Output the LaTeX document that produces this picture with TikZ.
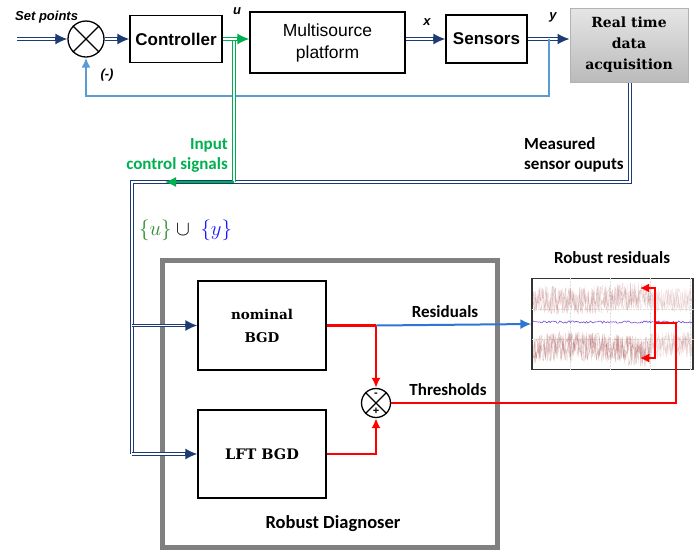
\documentclass[tikz,border=0pt]{standalone}
\usepackage{fontspec}
\usetikzlibrary{arrows.meta,calc}
\newfontfamily\arial{Liberation Sans}
\newfontfamily\calib{Carlito}
\newfontfamily\dserif{DejaVu Serif}
\definecolor{navy}{HTML}{1F3B73}
\definecolor{grn}{HTML}{00B050}
\definecolor{fbblue}{HTML}{5B9BD5}
\definecolor{resblue}{HTML}{2F75D5}
\definecolor{dgray}{HTML}{808080}
\definecolor{noise}{HTML}{A85050}
\definecolor{mblue}{HTML}{1A1AFF}
\definecolor{mgreen}{HTML}{2E8B2E}
\begin{document}
\begin{tikzpicture}[x=1pt,y=-1pt,
  box/.style={draw=black, line width=1.3pt, fill=white, inner sep=0pt, align=center},
  sumc/.style={draw=black, line width=1.3pt, circle, fill=white, inner sep=0pt},
  ndbl/.style={draw=navy, double=white, double distance=1.3pt, line width=1.1pt},
  gdbl/.style={draw=grn, double=white, double distance=1.3pt, line width=1.1pt},
  dshort/.style={shorten >=10pt},
  ntipline/.style={draw=navy, line width=1.4pt, -{Latex[length=12pt,width=11pt]}},
  gtipline/.style={draw=grn, line width=1.4pt, -{Latex[length=12pt,width=11pt]}},
  rline/.style={draw=red, line width=2.2pt},
  rtip/.style={-{Latex[length=10pt,width=9pt]}},
  lbl/.style={font=\calib\bfseries\fontsize{17}{20}\selectfont, inner sep=0pt},
  var/.style={font=\arial\bfseries\itshape\fontsize{13}{15}\selectfont, inner sep=0pt},
  serifb/.style={font=\dserif\bfseries\fontsize{14}{21}\selectfont}
]
\useasboundingbox (0,0) rectangle (694,550);

% ---------- top loop ----------
\node[sumc, minimum size=36pt] (s1) at (86,39) {};
\draw[line width=1.3pt] (s1.north west) -- (s1.south east) (s1.north east) -- (s1.south west);
\node[box, minimum width=92pt, minimum height=47pt, font=\arial\bfseries\fontsize{17}{20}\selectfont] (ctrl) at (176,39) {Controller};
\node[box, minimum width=155pt, minimum height=61pt, font=\arial\fontsize{17.5}{22}\selectfont] (ms) at (327.5,42.5) {Multisource\\platform};
\node[box, minimum width=81pt, minimum height=48pt, font=\arial\bfseries\fontsize{17}{20}\selectfont] (sens) at (486.5,39) {Sensors};
\node[draw=black!30, line width=1pt, top color=black!10, bottom color=black!27, minimum width=118pt, minimum height=74pt, inner sep=0pt, align=center, serifb] (rt) at (629,45) {Real time\\data\\acquisition};

\node[var, anchor=west] (sp) at (15,17) {Set points};
\coordinate (in) at (17,39);
\draw[ndbl, dshort] (in) -- (s1.west);
\draw[ntipline] ($(s1.west)+(-12,0)$) -- (s1.west);
\draw[ndbl, dshort] (s1.east) -- (ctrl.west);
\draw[ntipline] ($(ctrl.west)+(-12,0)$) -- (ctrl.west);
\draw[ndbl, dshort] (ms.east |- sens.west) -- (sens.west);
\draw[ntipline] ($(sens.west)+(-12,0)$) -- (sens.west);
\draw[ndbl, dshort] (sens.east) -- (rt.west |- sens.east);
\draw[ntipline] ($(rt.west |- sens.east)+(-12,0)$) -- (rt.west |- sens.east);
\node[var] (xl) at (427,22) {x};
\node[var] (yl) at (553,17) {y};
\node[var] (ul) at (237,11) {u};
\node[var] (mn) at (107,75) {(-)};

% feedback
\coordinate (fb) at (549,39);
\coordinate (fbr) at (549,96);
\coordinate (fbl) at (86,96);
\draw[fbblue, line width=1.8pt, -{Latex[length=10pt,width=9pt]}] (fb) -- (fbr) -- (fbl) -- (s1.south);

% measured outputs (navy)
\coordinate (m1) at (630,182);
\coordinate (m2) at (132,182);
\coordinate (m3) at (132,325.5);
\coordinate (m4) at (132,454);

% ---------- diagnoser ----------
\node[draw=dgray, line width=5pt, minimum width=335pt, minimum height=287pt, inner sep=0pt] (diag) at (329.5,403.5) {};
\node[lbl, font=\calib\bfseries\fontsize{18.5}{22}\selectfont] (dlab) at (333,524) {Robust Diagnoser};
\node[box, minimum width=128pt, minimum height=89pt, font=\dserif\bfseries\fontsize{13.5}{23}\selectfont] (nom) at (262,325.5) {nominal\\BGD};
\node[box, minimum width=128pt, minimum height=88pt, font=\dserif\bfseries\fontsize{14.5}{23}\selectfont] (lft) at (262,454) {LFT BGD};

\draw[ndbl] (rt.south -| m1) -- (m1) -- (m2) -- (m4);
\draw[ndbl, dshort] (m3) -- (nom.west);
\draw[ntipline] ($(nom.west)+(-12,0)$) -- (nom.west);
\draw[ndbl, dshort] (m4) -- (lft.west);
\draw[ntipline] ($(lft.west)+(-12,0)$) -- (lft.west);

% green input control branch
\coordinate (g1) at (234,39);
\coordinate (g2) at (234,182);
\coordinate (g3) at (165,182);
\draw[gdbl] (g1) -- (g2);
\draw[gdbl, dshort] (ctrl.east) -- (ms.west |- ctrl.east);
\draw[gtipline] ($(ms.west |- ctrl.east)+(-12,0)$) -- (ms.west |- ctrl.east);
\draw[grn, line width=1.2pt, -{Latex[length=11pt,width=10pt]}] (g2) -- (g3);

\node[lbl, text=grn, align=right, anchor=east] (icl) at (228,155) {Input\\control signals};
\node[lbl, align=left, anchor=west] (mso) at (524,155) {Measured\\sensor ouputs};
\node[inner sep=0pt, anchor=west, font=\fontsize{20}{22}\selectfont] (uy) at (139,230) {$\color{mgreen}\{u\}\color{black}\cup\ \color{mblue}\{y\}$};

% second summing junction
\node[sumc, minimum size=29pt] (s2) at (376,403) {};
\draw[line width=1.3pt] (s2.north west) -- (s2.south east) (s2.north east) -- (s2.south west);
\node[inner sep=0pt, font=\arial\bfseries\fontsize{11}{11}\selectfont] (sm) at (376,395) {-};
\node[inner sep=0pt, font=\arial\bfseries\fontsize{11}{11}\selectfont] (sp2) at (376,411.5) {+};

% plot
\node[draw=black!80, line width=1.2pt, minimum width=161pt, minimum height=91pt, inner sep=0pt] (plot) at (612.5,324) {};
\begin{scope}
\clip (plot.south west) rectangle (plot.north east);
\foreach \gx in {570,610,650,690} \draw[black!12, densely dotted] (\gx,278) -- (\gx,370);
\draw[black!12, densely dotted] (532,309) -- (694,309) (532,339) -- (694,339);
\pgfmathsetseed{7}
\foreach \k in {1,2,3}{
  \draw[noise, opacity=0.28, line width=0.3pt] plot[domain=533:650, samples=200, variable=\t] (\t, {298+3*sin(2.2*(\t-533))+14*rand});
  \draw[noise, opacity=0.36, line width=0.3pt] plot[domain=533:650, samples=200, variable=\t] (\t, {349-3*sin(2.2*(\t-533))+15*rand});
  \draw[noise, opacity=0.16, line width=0.3pt] plot[domain=650:693, samples=75, variable=\t] (\t, {300+12*rand});
  \draw[noise, opacity=0.2, line width=0.3pt] plot[domain=650:693, samples=75, variable=\t] (\t, {345+13*rand});
}
\draw[blue!55!violet!70!white, line width=0.6pt] plot[domain=533:692, samples=120, variable=\t] (\t, {322+1.2*rand});
\end{scope}
\node[lbl] (rrl) at (612,258) {Robust residuals};

% red / blue connectors
\coordinate (rj) at (376,325.5);
\coordinate (lj) at (376,454);
\draw[rline] (nom.east) -- (rj);
\draw[rline, rtip] (rj) -- (s2.north);
\draw[rline, rtip] (lft.east) -- (lj) -- (s2.south);
\draw[resblue, line width=2pt, -{Latex[length=11pt,width=10pt]}] (rj) -- (plot.west);
\node[lbl] (resl) at (445,312) {Residuals};
\node[lbl] (thl) at (448,390) {Thresholds};
\coordinate (t1) at (676,403);
\coordinate (t2) at (676,323);
\coordinate (t3) at (655,323);
\draw[rline] (s2.east) -- (t1) -- (t2) -- (t3);
\coordinate (b1) at (640,288);
\coordinate (b2) at (655,288);
\coordinate (b3) at (655,358);
\coordinate (b4) at (640,358);
\draw[rline, {Latex[length=9pt,width=9pt]}-{Latex[length=9pt,width=9pt]}] (b1) -- (b2) -- (b3) -- (b4);
\end{tikzpicture}
\end{document}
